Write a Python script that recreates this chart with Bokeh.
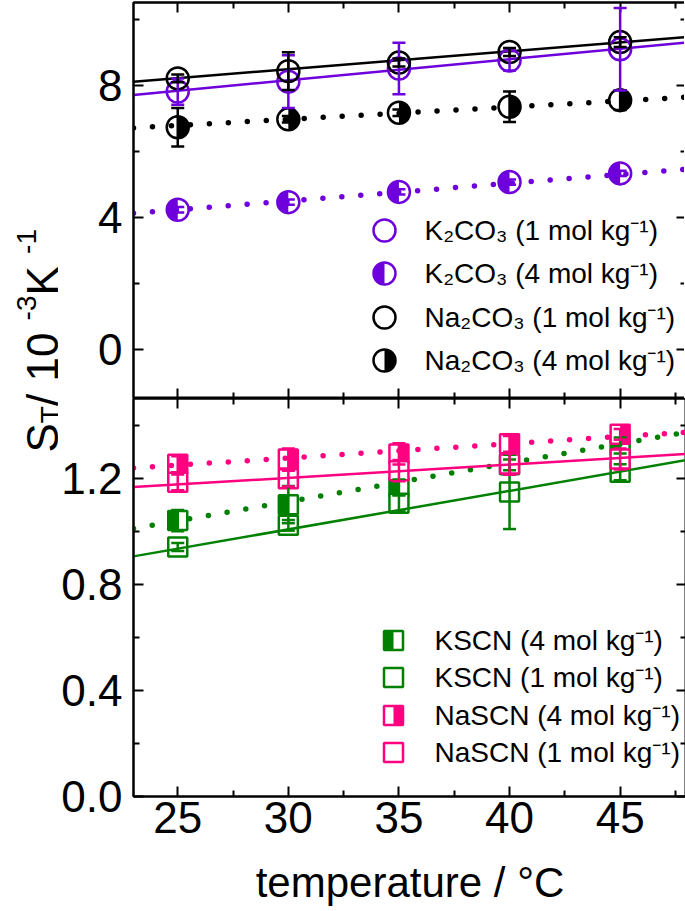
import math
from bokeh.plotting import figure
from bokeh.models import (Range1d, LinearAxis, FixedTicker, ColumnDataSource, Whisker,
                          TeeHead, Label, PrintfTickFormatter)
from bokeh.layouts import column, row
from bokeh.embed import file_html
from bokeh.resources import INLINE

# ---------------- data ----------------
temperature = [25, 30, 35, 40, 45]

# upper panel (S_T / 1e-3 K^-1)
k2co3_1 = [7.80, 8.10, 8.50, 8.74, 9.08]
k2co3_1_err = [0.40, 0.80, 0.78, 0.30, 1.25]
k2co3_4 = [4.22, 4.45, 4.76, 5.06, 5.32]
k2co3_4_err = [0.08, 0.08, 0.08, 0.08, 0.08]
na2co3_1 = [8.20, 8.42, 8.68, 9.00, 9.30]
na2co3_1_err = [0.12, 0.57, 0.12, 0.12, 0.15]
na2co3_4 = [6.72, 6.96, 7.16, 7.34, 7.54]
na2co3_4_err = [0.58, 0.10, 0.10, 0.46, 0.30]

# lower panel
kscn_4 = [1.040, 1.100, 1.165, 1.250, 1.323]
kscn_4_err = [0.04, 0.07, 0.03, 0.02, 0.03]
kscn_1 = [0.940, 1.022, 1.105, 1.148, 1.222]
kscn_1_err = [0.015, 0.02, 0.03, 0.14, 0.03]
nascn_4 = [1.252, 1.272, 1.291, 1.329, 1.365]
nascn_4_err = [0.03, 0.04, 0.04, 0.03, 0.02]
nascn_1 = [1.184, 1.198, 1.228, 1.253, 1.272]
nascn_1_err = [0.03, 0.03, 0.04, 0.04, 0.04]

# linear fits (end points)
fit_x = [23, 48]
fit_k2co3_1 = [7.70, 9.29]
fit_k2co3_4 = [4.11, 5.45]
fit_na2co3_1 = [8.10, 9.45]
fit_na2co3_4 = [6.70, 7.63]
fit_kscn_4 = [1.010, 1.373]
fit_kscn_1 = [0.905, 1.268]
fit_nascn_4 = [1.238, 1.373]
fit_nascn_1 = [1.166, 1.291]

x_ticks = [25, 30, 35, 40, 45]
x_minor = [27.5, 32.5, 37.5, 42.5, 47.5]
top_ticks = [0, 4, 8]
top_minor = [2, 6, 10]
bot_ticks = [0.0, 0.4, 0.8, 1.2]
bot_minor = [0.2, 0.6, 1.0, 1.4]

top_legend = ["K\u2082CO\u2083 (1 mol kg\u207b\u00b9)", "K\u2082CO\u2083 (4 mol kg\u207b\u00b9)",
              "Na\u2082CO\u2083 (1 mol kg\u207b\u00b9)", "Na\u2082CO\u2083 (4 mol kg\u207b\u00b9)"]
bot_legend = ["KSCN (4 mol kg\u207b\u00b9)", "KSCN (1 mol kg\u207b\u00b9)",
              "NaSCN (4 mol kg\u207b\u00b9)", "NaSCN (1 mol kg\u207b\u00b9)"]

# ---------------- style / layout ----------------
PURPLE = "#6E00DC"
BLACK = "#000000"
GREEN = "#008000"
PINK = "#FF0080"
FONT = "Liberation Sans"

X0, X1 = 23, 48
TOP_Y = (-1.5, 10.5)
BOT_Y = (0.0, 1.5)
LABW = 58            # width of the y-title strip
LABH = 880
FW = 553
FH_TOP, FH_BOT = 396, 398
ML = 73              # LABW + ML = frame left edge (131 px)
MT = 2
FRAME_LEFT = LABW + ML
PX_PER_X = FW / (X1 - X0)
R_C = 11
SQ = 19
MLW = 2.5


def page_x(px):
    return X0 + (px - FRAME_LEFT) / PX_PER_X


def page_y_top(py):
    return TOP_Y[1] - (py - MT) * (TOP_Y[1] - TOP_Y[0]) / FH_TOP


def page_y_bot(py):
    return BOT_Y[1] - (py - (MT + FH_TOP)) * (BOT_Y[1] - BOT_Y[0]) / FH_BOT


def make_panel(yr, fh, mt):
    p = figure(x_range=Range1d(X0, X1), y_range=Range1d(*yr), frame_width=FW, frame_height=fh,
               min_border_left=ML, min_border_right=0, min_border_top=mt, min_border_bottom=0,
               x_axis_location=None, y_axis_location=None, toolbar_location=None,
               output_backend="svg")
    p.grid.visible = False
    p.outline_line_color = "black"
    p.outline_line_width = 2
    p.background_fill_color = "white"
    p.border_fill_color = "white"
    return p


def add_axis(p, side, ticks, minor, show_labels, fmt=None, standoff=12):
    ax = LinearAxis(ticker=FixedTicker(ticks=ticks, minor_ticks=minor))
    ax.axis_line_width = 2
    ax.major_tick_in = 10
    ax.major_tick_out = 0
    ax.minor_tick_in = 6
    ax.minor_tick_out = 0
    ax.major_tick_line_width = 2
    ax.minor_tick_line_width = 2
    if show_labels:
        ax.major_label_text_font = FONT
        ax.major_label_text_font_size = "44px"
        ax.major_label_text_color = "black"
        ax.major_label_standoff = standoff
        if fmt:
            ax.formatter = PrintfTickFormatter(format=fmt)
    else:
        ax.major_label_text_font_size = "1px"
        ax.major_label_text_color = None
        ax.major_label_standoff = 0
    p.add_layout(ax, side)
    return ax


def fit_line(p, ys, color, dotted):
    if dotted:
        p.line(fit_x, ys, line_color=color, line_width=5.5, line_dash="0 19", line_cap="round")
    else:
        p.line(fit_x, ys, line_color=color, line_width=2.5)


def errbars(p, xs, ys, errs, color):
    src = ColumnDataSource(dict(x=xs, lo=[y - e for y, e in zip(ys, errs)],
                                hi=[y + e for y, e in zip(ys, errs)]))
    w = Whisker(base="x", upper="hi", lower="lo", source=src, line_color=color, line_width=2.5,
                level="annotation",
                upper_head=TeeHead(size=13, line_color=color, line_width=2.5),
                lower_head=TeeHead(size=13, line_color=color, line_width=2.5))
    p.add_layout(w)


def circles(p, xs, ys, color, half=None):
    src = ColumnDataSource(dict(x=xs, y=ys))
    if half:
        if half == "left":
            a0, a1 = math.pi / 2, 3 * math.pi / 2
        else:
            a0, a1 = -math.pi / 2, math.pi / 2
        p.wedge(x="x", y="y", radius=R_C, radius_units="screen", start_angle=a0, end_angle=a1,
                fill_color=color, line_color=None, source=src)
    p.scatter(x="x", y="y", marker="circle", size=2 * R_C, fill_alpha=0, line_color=color,
              line_width=MLW, source=src)


def squares(p, xs, ys, color, half=None):
    p.scatter(x=xs, y=ys, marker="square", size=SQ, fill_color="white", line_color=None)
    if half:
        off = (SQ / 4) / PX_PER_X * (-1 if half == "left" else 1)
        p.rect(x=[x + off for x in xs], y=ys, width=SQ / 2, height=SQ, width_units="screen",
               height_units="screen", fill_color=color, line_color=None)
    p.scatter(x=xs, y=ys, marker="square", size=SQ, fill_alpha=0, line_color=color,
              line_width=MLW)


def legend_text(p, x, y, text):
    p.add_layout(Label(x=x, y=y, text=text, text_font=FONT, text_font_size="28px",
                       text_baseline="middle", text_align="left", text_color="black"))


# ---------------- top panel ----------------
top = make_panel(TOP_Y, FH_TOP, MT)
add_axis(top, "left", top_ticks, top_minor, True, "%d", 11)
add_axis(top, "right", top_ticks, top_minor, False)
add_axis(top, "above", x_ticks, x_minor, False)
add_axis(top, "below", x_ticks, x_minor, False)

fit_line(top, fit_k2co3_4, PURPLE, True)
fit_line(top, fit_na2co3_4, BLACK, True)
fit_line(top, fit_k2co3_1, PURPLE, False)
fit_line(top, fit_na2co3_1, BLACK, False)

errbars(top, temperature, k2co3_4, k2co3_4_err, PURPLE)
errbars(top, temperature, na2co3_4, na2co3_4_err, BLACK)
errbars(top, temperature, k2co3_1, k2co3_1_err, PURPLE)
errbars(top, temperature, na2co3_1, na2co3_1_err, BLACK)

circles(top, temperature, k2co3_4, PURPLE, "left")
circles(top, temperature, na2co3_4, BLACK, "right")
circles(top, temperature, k2co3_1, PURPLE)
circles(top, temperature, na2co3_1, BLACK)

# legend (upper)
leg_top_rows = [230, 273, 317, 360]
leg_top_style = [(PURPLE, None), (PURPLE, "left"), (BLACK, None), (BLACK, "right")]
for py, txt, (col, half) in zip(leg_top_rows, top_legend, leg_top_style):
    circles(top, [page_x(382)], [page_y_top(py)], col, half)
    legend_text(top, page_x(422), page_y_top(py), txt)

# ---------------- bottom panel ----------------
bot = make_panel(BOT_Y, FH_BOT, 0)
add_axis(bot, "left", bot_ticks, bot_minor, True, "%.1f", 11)
add_axis(bot, "right", bot_ticks, bot_minor, False)
add_axis(bot, "above", x_ticks, x_minor, False)
xb = add_axis(bot, "below", x_ticks, x_minor, True, "%d", 5)
xb.axis_label = "temperature / \u00b0C"
xb.axis_label_text_font = FONT
xb.axis_label_text_font_size = "42px"
xb.axis_label_text_font_style = "normal"
xb.axis_label_text_color = "black"
xb.axis_label_standoff = 23

# KSCN first, then NaSCN drawn on top (as in the original)
squares(bot, temperature, kscn_4, GREEN, "left")
squares(bot, temperature, kscn_1, GREEN)
fit_line(bot, fit_kscn_4, GREEN, True)
fit_line(bot, fit_kscn_1, GREEN, False)
squares(bot, temperature, nascn_4, PINK, "right")
squares(bot, temperature, nascn_1, PINK)
fit_line(bot, fit_nascn_4, PINK, True)
fit_line(bot, fit_nascn_1, PINK, False)

errbars(bot, temperature, kscn_4, kscn_4_err, GREEN)
errbars(bot, temperature, kscn_1, kscn_1_err, GREEN)
errbars(bot, temperature, nascn_4, nascn_4_err, PINK)
errbars(bot, temperature, nascn_1, nascn_1_err, PINK)

leg_bot_rows = [640, 677, 715, 752]
leg_bot_style = [(GREEN, "left"), (GREEN, None), (PINK, "right"), (PINK, None)]
for py, txt, (col, half) in zip(leg_bot_rows, bot_legend, leg_bot_style):
    squares(bot, [page_x(391)], [page_y_bot(py)], col, half)
    legend_text(bot, page_x(432), page_y_bot(py), txt)

# ---------------- y title strip (rotated, reads bottom to top) ----------------
lab = figure(x_range=Range1d(0, LABW), y_range=Range1d(0, LABH), frame_width=LABW,
             frame_height=LABH, min_border=0, x_axis_location=None, y_axis_location=None,
             toolbar_location=None, output_backend="svg")
lab.grid.visible = False
lab.outline_line_color = None
lab.background_fill_color = "white"
lab.border_fill_color = "white"

MAIN, SCRIPT = 44, 28
BASE, SUB, SUP = 42, 50, 26
title_pieces = [("S", MAIN, BASE, 0.667), ("T", SCRIPT, SUB, 0.611), (" / 10", MAIN, BASE, 1.946),
                ("-3", SCRIPT, SUP, 0.889), (" K", MAIN, BASE, 0.945), ("-1", SCRIPT, SUP, 0.889)]
y_cur = 452.0
for txt, fs, bx, em in title_pieces:
    lab.add_layout(Label(x=bx, y=LABH - y_cur, text=txt, angle=math.pi / 2, text_font=FONT,
                         text_font_size=f"{fs}px", text_align="left", text_baseline="alphabetic",
                         text_color="black"))
    y_cur -= em * fs

layout = row(lab, column(top, bot))
open("out.html", "w").write(file_html(layout, INLINE))
